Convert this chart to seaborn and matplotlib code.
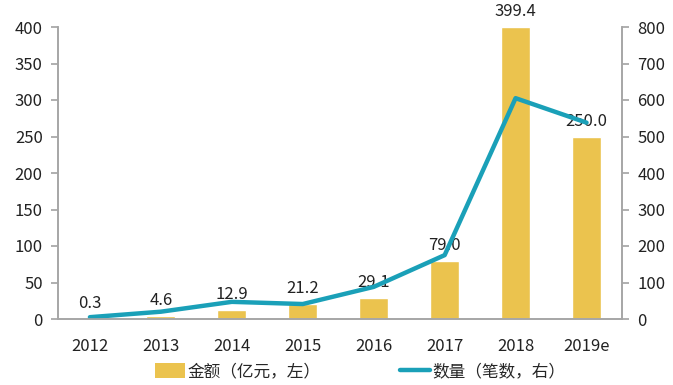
import numpy as np
import pandas as pd
import matplotlib
matplotlib.use('Agg')
import matplotlib.pyplot as plt
from matplotlib.patches import Patch
from matplotlib.lines import Line2D
import seaborn as sns

# data
years = ['2012', '2013', '2014', '2015', '2016', '2017', '2018', '2019e']
amount = [0.3, 4.6, 12.9, 21.2, 29.1, 79.0, 399.4, 250.0]   # 亿元, left axis
count = [5, 20, 47, 41, 88, 175, 605, 538]                   # 笔数, right axis

GOLD = '#EBC34E'
TEAL = '#1AA0B8'
GREY = '#A6A6A6'

sns.set_theme(style='white')
plt.rcParams['font.family'] = ['Noto Sans CJK SC', 'DejaVu Sans']
plt.rcParams['axes.unicode_minus'] = False

fig = plt.figure(figsize=(6.73, 3.85), dpi=100)
ax = fig.add_axes([58 / 673, 1 - 319 / 385, (622 - 58) / 673, (319 - 27) / 385])

df = pd.DataFrame({'year': years, 'amount': amount})
sns.barplot(data=df, x='year', y='amount', color=GOLD, saturation=1,
            width=0.41, ax=ax)

ax2 = ax.twinx()
sns.lineplot(x=np.arange(len(years)), y=count, color=TEAL, linewidth=3.2,
             ax=ax2)

for i, v in enumerate(amount):
    ax.annotate(f'{v:.1f}', (i, v), xytext=(0, 5), textcoords='offset points',
                ha='center', va='bottom', fontsize=12, color='#222222')

ax.set_xlim(-0.45, 7.5)
ax.set_ylim(0, 400)
ax2.set_ylim(0, 800)
ax.set_yticks(range(0, 401, 50))
ax2.set_yticks(range(0, 801, 100))
ax.set_xlabel('')
ax.set_ylabel('')
ax2.set_ylabel('')

for a in (ax, ax2):
    a.spines['top'].set_visible(False)
    for s in ('left', 'right', 'bottom'):
        a.spines[s].set_color(GREY)
        a.spines[s].set_linewidth(1.2)
ax.tick_params(axis='y', left=True, length=5, color=GREY, labelsize=12,
               labelcolor='#222222', pad=6)
ax2.tick_params(axis='y', right=True, length=5, color=GREY, labelsize=12,
                labelcolor='#222222', pad=6)
ax.tick_params(axis='x', bottom=False, labelsize=12, labelcolor='#222222', pad=8)

handles = [Patch(facecolor=GOLD, edgecolor='none'),
           Line2D([0], [0], color=TEAL, linewidth=3.2)]
labels = ['金额（亿元，左）', '数量（笔数，右）']
fig.legend(handles, labels, loc='center', bbox_to_anchor=(0.535, 1 - 372 / 385),
           ncol=2, frameon=False, fontsize=12, handlelength=1.8,
           handletextpad=0.15, columnspacing=4.8, handleheight=1.0)

fig.savefig('out.png', dpi=100)
